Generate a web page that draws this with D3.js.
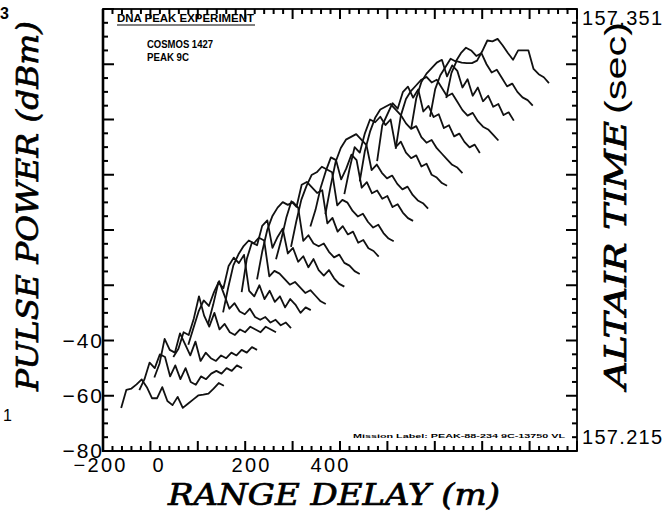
<!DOCTYPE html>
<html>
<head>
<meta charset="utf-8">
<script src="https://cdn.jsdelivr.net/npm/d3@7"></script>
<style>
  html, body { margin: 0; padding: 0; background: #fff; }
  svg { display: block; }
</style>
</head>
<body>
<svg id="chart" width="672" height="522"></svg>
<script>
// ---- data -------------------------------------------------------------
// Axis label values
const rangeTicks = [-200, 0, 200, 400];          // RANGE DELAY (m)
const powerTicks = [-80, -60, -40];              // PULSE POWER (dBm)
const timeTicks  = [157.215, 157.351];           // ALTAIR TIME (sec)

// Waterfall of range sweeps: each sweep starts at its own range delay and
// sits on its own power base; samples are spaced gateStep metres apart and
// given in dB above that base.
const gateStep = 13;
const sweepStart = [-154, -108, -70, -22, 16, 66, 104, 151, 190, 238,
                    276, 325, 363, 411, 450, 494, 541, 580, 628, 669];
const sweepBase  = [-64.4, -58.0, -53.4, -46.0, -41.5, -34.0, -29.8, -22.5, -17.9, -10.6,
                    -6.1, 1.3, 5.7, 13.0, 17.6, 24.9, 29.4, 36.6, 41.0, 47.8];
const sweepPower = [
  [0, 6.5, 7.0, 8.5, 10.3, 7.5, 3.5, 3.5, 7.5, 2.5, 1.0, 4.0, 0.0, 1.5, 3.0, 4.5, 4.8, 5.2, 7.0, 9.0, 8.0],
  [0, 4, 10, 8, 13, 12, 5, 9, 4, 8, 3, 2, 5, 4, 6, 7, 6, 8, 7, 9, 8],
  [0, 5, 14, 10, 9, 16, 12, 8, 13, 6, 9, 7, 6, 8, 7, 9, 8, 10, 9, 11, 10],
  [0, 3, 9, 8, 14, 22, 15, 11, 16, 10, 12, 9, 8, 10, 9, 11, 10, 9, 11, 10, 9],
  [0, 6, 12, 16, 14, 19, 23, 18, 13, 15, 12, 11, 13, 10, 9, 10, 8, 9, 7, 8, 6],
  [0, 7, 15, 13, 21, 24, 22, 25, 12, 10, 14, 9, 12, 8, 10, 6, 9, 7, 4, 6, 5],
  [0, 9, 17, 21, 24, 26, 25, 27, 26, 13, 15, 14, 12, 10, 11, 9, 7, 8, 6, 4, 3],
  [0, 12, 18, 17, 24, 26, 16, 20, 23, 14, 16, 11, 13, 9, 12, 8, 6, 8, 5, 3, 2],
  [0, 10, 18, 23, 26, 28, 27, 28, 26, 14, 16, 13, 12, 13, 10, 8, 9, 6, 5, 3, 2],
  [0, 7, 15, 21, 19, 27, 28, 26, 24, 25, 13, 15, 10, 12, 9, 10, 6, 7, 4, 3, 1],
  [0, 9, 17, 22, 26, 27, 29, 28, 27, 15, 17, 16, 13, 11, 12, 9, 7, 8, 5, 3, 2],
  [0, 6, 14, 20, 25, 24, 17, 21, 26, 24, 14, 16, 12, 13, 10, 11, 7, 8, 5, 3, 2],
  [0, 10, 19, 24, 27, 28, 29, 27, 25, 16, 18, 15, 13, 14, 11, 9, 10, 7, 5, 4, 2],
  [0, 9, 17, 15, 22, 27, 26, 28, 25, 27, 17, 19, 15, 13, 14, 10, 11, 7, 6, 4, 3],
  [0, 11, 18, 23, 26, 27, 28, 26, 24, 21, 19, 20, 16, 14, 15, 12, 10, 8, 6, 5, 3],
  [0, 13, 17, 21, 19, 25, 27, 23, 26, 18, 20, 16, 17, 12, 13, 9, 10, 7, 5, 6, 3],
  [0, 12, 18, 21, 23, 25, 26, 24, 25, 22, 19, 20, 17, 14, 12, 13, 10, 8, 7, 5, 3],
  [0, 11, 17, 20, 22, 24, 25, 19, 23, 21, 15, 18, 12, 15, 10, 12, 8, 9, 5, 6, 3],
  [0, 10, 15, 18, 21, 20, 23, 25, 24, 22, 23, 19, 16, 17, 14, 11, 12, 9, 7, 6, 4],
  [0, 9, 13.3, 12.8, 12.6, 12.6, 13.5, 16.9, 20.8, 20.5, 21.4, 19, 16.3, 13.8, 17.2, 17.2, 17.2, 10.5, 8.6, 7.5, 5.4]
];

// ---- layout -----------------------------------------------------------
const frame = { left: 103, right: 577, top: 9, bottom: 451 };
const sans  = "'Liberation Sans', Arial, Helvetica, sans-serif";
const serif = "'DejaVu Serif', 'Liberation Serif', serif";
const ink = "#000";

const x = d3.scaleLinear().domain([-200, 1000]).range([frame.left, frame.right]);
const y = d3.scaleLinear().domain([-80, 80]).range([frame.bottom, frame.top]);
const t = d3.scaleLinear().domain(timeTicks).range([437, 18]);

const svg = d3.select("#chart");

// ---- sweeps -----------------------------------------------------------
const line = d3.line()
  .x(d => x(d[0]))
  .y(d => y(d[1]));

const sweeps = sweepPower.map((vals, i) =>
  vals.map((p, k) => [sweepStart[i] + k * gateStep, sweepBase[i] + p]));

svg.append("g")
  .selectAll("path")
  .data(sweeps)
  .join("path")
  .attr("d", line)
  .attr("fill", "none")
  .attr("stroke", "#111")
  .attr("stroke-width", 1.8)
  .attr("stroke-linejoin", "round");

// ---- frame ticks (all pointing inward), drawn as small filled bars -----
const xTickVals = d3.range(-200, 1000.01, 24);
const yTickVals = d3.range(-80, 80.01, 5);
const xLen = v => (Math.round(v + 200) % 120 === 0 ? 10 : 5);
const yLen = v => (Math.round(v + 80) % 20 === 0 ? 11 : 5);
const tw = 2;   // tick thickness

const tickG = svg.append("g").attr("fill", ink);
tickG.selectAll("rect.xb").data(xTickVals).join("rect").attr("class", "xb")
  .attr("x", v => x(v) - tw / 2).attr("width", tw)
  .attr("y", v => frame.bottom - xLen(v)).attr("height", v => xLen(v));
tickG.selectAll("rect.xt").data(xTickVals).join("rect").attr("class", "xt")
  .attr("x", v => x(v) - tw / 2).attr("width", tw)
  .attr("y", frame.top).attr("height", v => xLen(v));
tickG.selectAll("rect.yl").data(yTickVals).join("rect").attr("class", "yl")
  .attr("y", v => y(v) - tw / 2).attr("height", tw)
  .attr("x", frame.left).attr("width", v => yLen(v));
tickG.selectAll("rect.yr").data(yTickVals).join("rect").attr("class", "yr")
  .attr("y", v => y(v) - tw / 2).attr("height", tw)
  .attr("x", v => frame.right - yLen(v)).attr("width", v => yLen(v));

// frame border
svg.append("rect")
  .attr("x", frame.left).attr("y", frame.top)
  .attr("width", frame.right - frame.left)
  .attr("height", frame.bottom - frame.top)
  .attr("fill", "none").attr("stroke", ink).attr("stroke-width", 1.8);
svg.append("line")
  .attr("x1", frame.left).attr("x2", frame.left)
  .attr("y1", frame.top).attr("y2", frame.bottom + 1)
  .attr("stroke", ink).attr("stroke-width", 2.6);
svg.append("line")
  .attr("x1", frame.left).attr("x2", frame.right)
  .attr("y1", frame.bottom).attr("y2", frame.bottom)
  .attr("stroke", ink).attr("stroke-width", 2.2);

// ---- tick labels ------------------------------------------------------
svg.append("g")
  .attr("transform", `translate(0,${frame.bottom})`)
  .call(d3.axisBottom(x).tickValues(rangeTicks).tickSize(0).tickPadding(7))
  .call(g => g.select(".domain").remove())
  .selectAll("text")
  .attr("text-anchor", "start")
  .attr("dx", -30)
  .attr("fill", ink)
  .style("font", `20px ${sans}`)
  .style("letter-spacing", "2.3px");

svg.append("g")
  .attr("transform", `translate(${frame.left},0)`)
  .call(d3.axisLeft(y).tickValues(powerTicks).tickSize(0).tickPadding(-1))
  .call(g => g.select(".domain").remove())
  .selectAll("text")
  .attr("fill", ink)
  .style("font", `21px ${sans}`)
  .style("letter-spacing", "2px");

svg.append("g")
  .attr("transform", `translate(${frame.right},0)`)
  .call(d3.axisRight(t).tickValues(timeTicks).tickSize(0).tickPadding(5).tickFormat(d3.format(".3f")))
  .call(g => g.select(".domain").remove())
  .selectAll("text")
  .attr("fill", ink)
  .style("font", `20px ${sans}`)
  .style("letter-spacing", "1.3px");

// stray digits at the page's left margin
svg.append("text").attr("x", 0).attr("y", 19).text("3")
  .style("font", `bold 16px ${sans}`).attr("fill", ink);
svg.append("text").attr("x", 3).attr("y", 421).text("1")
  .style("font", `16px ${sans}`).attr("fill", ink);

// ---- axis titles ------------------------------------------------------
const titleStyle = sel => sel
  .attr("fill", ink).attr("stroke", ink).attr("stroke-width", 0.7)
  .attr("lengthAdjust", "spacingAndGlyphs");

svg.append("text")
  .attr("transform", "translate(38,206) rotate(-90)")
  .attr("text-anchor", "middle")
  .attr("textLength", 370)
  .style("font", `italic 30px ${serif}`)
  .call(titleStyle)
  .text("PULSE POWER (dBm)");

svg.append("text")
  .attr("x", 334).attr("y", 505)
  .attr("text-anchor", "middle")
  .attr("textLength", 332)
  .style("font", `italic 29px ${serif}`)
  .call(titleStyle)
  .text("RANGE DELAY (m)");

svg.append("text")
  .attr("transform", "translate(626,255) rotate(-90)")
  .attr("text-anchor", "middle")
  .attr("textLength", 268)
  .style("font", `italic 29px ${serif}`)
  .call(titleStyle)
  .text("ALTAIR TIME");
svg.append("text")
  .attr("transform", "translate(626,68) rotate(-90)")
  .attr("text-anchor", "middle")
  .attr("textLength", 92).attr("lengthAdjust", "spacingAndGlyphs")
  .style("font", `29px ${sans}`)
  .attr("fill", ink)
  .text("(sec)");

// ---- annotations inside the frame -------------------------------------
svg.append("text").attr("x", 117).attr("y", 22)
  .attr("textLength", 137).attr("lengthAdjust", "spacingAndGlyphs")
  .style("font", `bold 11px ${sans}`).attr("fill", ink)
  .text("DNA PEAK EXPERIMENT");
svg.append("line").attr("x1", 117).attr("x2", 255).attr("y1", 25).attr("y2", 25)
  .attr("stroke", ink).attr("stroke-width", 1.2);
svg.append("text").attr("x", 147).attr("y", 48)
  .attr("textLength", 66).attr("lengthAdjust", "spacingAndGlyphs")
  .style("font", `bold 11px ${sans}`).attr("fill", ink)
  .text("COSMOS 1427");
svg.append("text").attr("x", 147).attr("y", 61)
  .attr("textLength", 42).attr("lengthAdjust", "spacingAndGlyphs")
  .style("font", `bold 11px ${sans}`).attr("fill", ink)
  .text("PEAK 9C");

svg.append("text").attr("x", 353).attr("y", 437.5)
  .attr("textLength", 212).attr("lengthAdjust", "spacingAndGlyphs")
  .style("font", `bold 6px ${sans}`).attr("fill", ink)
  .text("Mission Label: PEAK-88-234 9C-13750 VL");
</script>
</body>
</html>
